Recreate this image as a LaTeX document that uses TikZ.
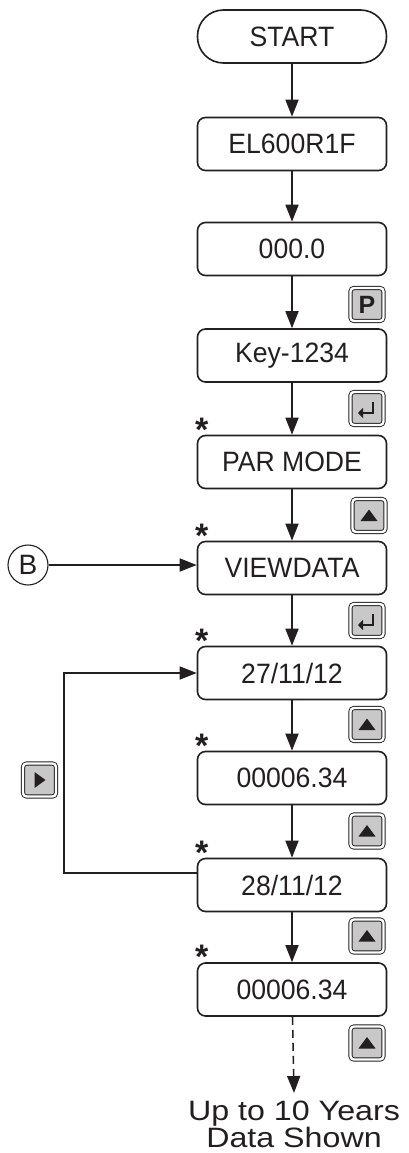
\documentclass[tikz,border=0pt]{standalone}
\usepackage{fontspec}
\setmainfont{Liberation Sans}
\usetikzlibrary{arrows.meta}
\definecolor{ink}{HTML}{231F20}
\definecolor{keygray}{HTML}{C8C8C8}

\begin{document}
\begin{tikzpicture}[x=1pt,y=-1pt,
  box/.style={draw=ink, line width=1.6pt, rounded corners=8pt,
    minimum width=189pt, minimum height=53pt, inner sep=0pt,
    text=ink, font=\fontsize{28}{30}\selectfont\addfontfeature{FakeStretch=0.95}},
  startbox/.style={box, rounded corners=26pt},
  flow/.style={draw=ink, line width=1.6pt, -{Triangle[length=17pt,width=13pt]}},
  dashflow/.style={flow, dash pattern=on 8pt off 5pt},
  keycap/.style={draw=ink, line width=0.9pt, double=white, double distance=2.4pt,
    fill=keygray, rounded corners=3.5pt, minimum size=33pt, inner sep=0pt},
  star/.style={text=ink, inner sep=0pt, font=\fontsize{34}{34}\selectfont\bfseries},
  keysym/.style={fill=ink},
]
\useasboundingbox (0,0) rectangle (409,1153);

% main chain of display states
\node[startbox] (s0) at (292,36.5) {START};
\node[box] (s1) at (292,144) {EL600R1F};
\node[box] (s2) at (292,249) {000.0};
\node[box] (s3) at (292,355.5) {Key-1234};
\node[box] (s4) at (292,462) {PAR MODE};
\node[box] (s5) at (292,568) {VIEWDATA};
\node[box] (s6) at (292,673) {27/11/12};
\node[box] (s7) at (292,778) {00006.34};
\node[box] (s8) at (292,885) {28/11/12};
\node[box] (s9) at (292,989.5) {00006.34};

% asterisks on the editable states
\foreach \n in {s4,s5,s6,s7,s8,s9}
  \node[star] at ([xshift=5pt,yshift=5pt]\n.north west) {*};

% bottom note
\node[text=ink, align=center, inner sep=0pt,
  font=\fontsize{28}{23}\selectfont\addfontfeature{FakeStretch=1.15}]
  (note) at (294,1124) {Up to 10 Years\\Data Shown};
\coordinate (end) at (294,1093);

% connector B
\node[draw=ink, circle, line width=1.1pt, minimum size=40pt, inner sep=0pt,
  text=ink, font=\fontsize{28}{30}\selectfont] (b) at (28,565) {B};

% arrows
\draw[flow] (s0) -- (s1);
\draw[flow] (s1) -- (s2);
\draw[flow] (s2) -- (s3);
\draw[flow] (s3) -- (s4);
\draw[flow] (s4) -- (s5);
\draw[flow] (s5) -- (s6);
\draw[flow] (s6) -- (s7);
\draw[flow] (s7) -- (s8);
\draw[flow] (s8) -- (s9);
\draw[dashflow] (s9) -- (end);
\draw[flow] (b.east) -- (b.east -| s5.west);
\coordinate (lp) at (64,0);
\draw[flow] ([yshift=12pt]s8.west) -- ([yshift=12pt]s8.west -| lp) -- (lp |- s6.west) -- (s6.west);

% key caps
\node[keycap] (kp)  at (367,304.5) {};
\node[keycap] (ke1) at (367,408.5) {};
\node[keycap] (ku1) at (369,515.5) {};
\node[keycap] (ke2) at (367,620.5) {};
\node[keycap] (ku2) at (367,724.5) {};
\node[keycap] (ku3) at (367,831) {};
\node[keycap] (ku4) at (367,936) {};
\node[keycap] (ku5) at (367,1043) {};
\node[keycap] (kr)  at (39.5,780) {};

% key symbols
\node[text=ink, font=\fontsize{25}{25}\selectfont\bfseries, inner sep=0pt] at (kp) {P};
\foreach \k in {ke1,ke2}
  \draw[ink, line width=2.8pt, -{Triangle[length=5pt,width=10pt]}]
    (\k.center) ++(6,-7) -- ++(0,11.5) -- ++(-15,0);
\foreach \k in {ku1,ku2,ku3,ku4,ku5}
  \fill[keysym] (\k.center) ++(-8.5,5.5) -- ++(17,0) -- ++(-8.5,-11.5) -- cycle;
\fill[keysym] (kr.center) ++(-5,-8) -- ++(0,16) -- ++(11,-8) -- cycle;
\end{tikzpicture}
\end{document}
